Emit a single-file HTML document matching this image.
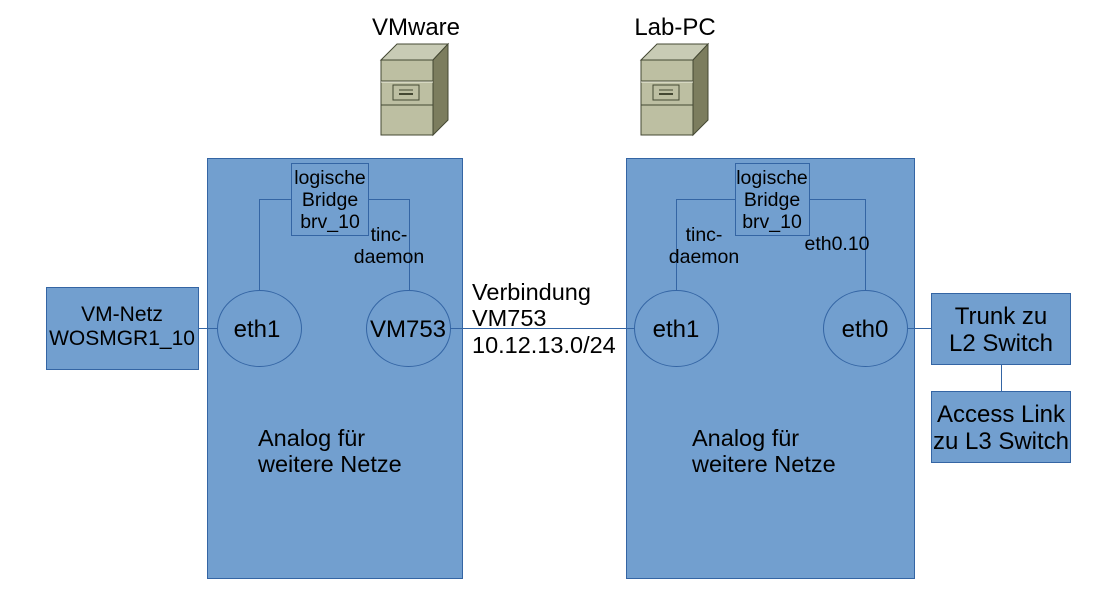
<!DOCTYPE html>
<html><head><meta charset="utf-8"><style>
html,body{margin:0;padding:0;background:#fff;}
svg text{font-family:"Liberation Sans",sans-serif;fill:#000;}
</style></head><body>
<svg width="1114" height="605" viewBox="0 0 1114 605" xmlns="http://www.w3.org/2000/svg">
<defs>
<g id="srv">
<polygon points="1,20 17,4 68,4 53,20" fill="#c8cbb5" stroke="#444833" stroke-width="1"/>
<polygon points="53,20 68,4 68,80 53,95" fill="#7c7d5e" stroke="#444833" stroke-width="1"/>
<rect x="1" y="20" width="52" height="75" fill="#bdbfa2" stroke="#444833" stroke-width="1"/>
<line x1="1" y1="41" x2="53" y2="41" stroke="#444833"/>
<line x1="1" y1="42" x2="53" y2="42" stroke="#f0f0e0"/>
<line x1="1" y1="65" x2="53" y2="65" stroke="#444833"/>
<rect x="13" y="45" width="26" height="15" fill="#bdbfa2" stroke="#444833"/>
<line x1="19" y1="50" x2="33" y2="50" stroke="#444833"/>
<line x1="19" y1="54" x2="33" y2="54" stroke="#444833" stroke-width="2"/>
</g>
</defs>
<text x="416" y="35" font-size="24" text-anchor="middle">VMware</text>
<text x="675" y="35" font-size="24" text-anchor="middle">Lab-PC</text>
<use href="#srv" x="380" y="40"/>
<use href="#srv" x="640" y="40"/>

<g stroke="#3465a4" stroke-width="1" fill="#729fcf">
<rect x="207.5" y="158.5" width="255" height="420"/>
<rect x="626.5" y="158.5" width="288" height="420"/>
<rect x="46.5" y="287.5" width="152" height="82"/>
<rect x="931.5" y="293.5" width="139" height="71"/>
<rect x="931.5" y="391.5" width="139" height="71"/>
</g>
<g stroke="#3465a4" stroke-width="1" fill="none">
<polyline points="291,199.5 259.5,199.5 259.5,290"/>
<polyline points="368,199.5 409.5,199.5 409.5,290"/>
<polyline points="735,199.5 676.5,199.5 676.5,290"/>
<polyline points="809,199.5 865.5,199.5 865.5,290"/>
<line x1="198" y1="328.5" x2="218" y2="328.5"/>
<line x1="449" y1="328.5" x2="635" y2="328.5"/>
<line x1="906" y1="328.5" x2="931" y2="328.5"/>
<line x1="1001.5" y1="364" x2="1001.5" y2="391"/>
</g>
<g stroke="#3465a4" stroke-width="1" fill="#729fcf">
<rect x="291.5" y="163.5" width="77" height="72"/>
<rect x="735.5" y="163.5" width="74" height="72"/>
<ellipse cx="259.5" cy="328.5" rx="42" ry="38"/>
<ellipse cx="408.5" cy="328.5" rx="42" ry="38"/>
<ellipse cx="676.5" cy="328.5" rx="42" ry="38"/>
<ellipse cx="865.5" cy="328.5" rx="42" ry="38"/>
</g>
<g font-size="19.5" text-anchor="middle">
<text x="330" y="184">logische</text><text x="330" y="206">Bridge</text><text x="330" y="228">brv_10</text>
<text x="772" y="184">logische</text><text x="772" y="206">Bridge</text><text x="772" y="228">brv_10</text>
<text x="389" y="241">tinc-</text><text x="389" y="263">daemon</text>
<text x="704" y="241">tinc-</text><text x="704" y="263">daemon</text>
<text x="837" y="250">eth0.10</text>
</g>
<g font-size="24" text-anchor="middle">
<text x="257" y="337">eth1</text>
<text x="408" y="337">VM753</text>
<text x="676" y="337">eth1</text>
<text x="865" y="337">eth0</text>
<text x="122" y="321" font-size="21">VM-Netz</text>
<text x="122" y="345" font-size="21">WOSMGR1_10</text>
<text x="1001" y="324">Trunk zu</text><text x="1001" y="351">L2 Switch</text>
<text x="1001" y="422">Access Link</text><text x="1001" y="449">zu L3 Switch</text>
</g>
<g font-size="23.5">
<text x="472" y="300">Verbindung</text>
<text x="472" y="326">VM753</text>
<text x="472" y="353">10.12.13.0/24</text>
<text x="258" y="446">Analog für</text>
<text x="258" y="472">weitere Netze</text>
<text x="692" y="446">Analog für</text>
<text x="692" y="472">weitere Netze</text>
</g>
</svg>
</body></html>
